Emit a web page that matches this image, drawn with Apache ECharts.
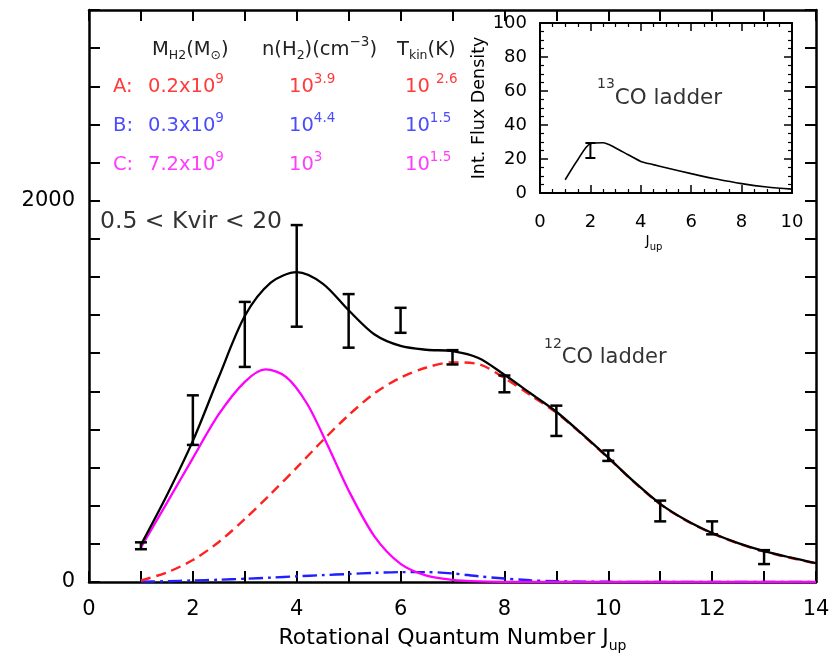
<!DOCTYPE html>
<html>
<head>
<meta charset="utf-8">
<script src="https://cdn.jsdelivr.net/npm/echarts@6/dist/echarts.min.js"></script>
<style>
  html, body { margin: 0; padding: 0; background: #fff; }
  #main { width: 839px; height: 658px; }
</style>
</head>
<body>
<div id="main"></div>
<script>
// 12CO ladder, observed error bars
var jObs = [1, 2, 3, 4, 5, 6, 7, 8, 9, 10, 11, 12, 13];
var obsLow = [172, 719, 1128, 1339, 1229, 1307, 1141, 995, 766, 635, 318, 250, 94];
var obsHigh = [208, 979, 1469, 1872, 1510, 1438, 1216, 1083, 925, 690, 427, 318, 167];

// model curves (total, A, B) sampled every 0.5 in J
var jModel = [1, 1.5, 2, 2.5, 3, 3.5, 4, 4.5, 5, 5.5, 6, 6.5, 7, 7.5, 8, 8.5, 9, 9.5, 10, 10.5, 11, 11.5, 12, 12.5, 13, 13.5, 14];
var fitTotal = [195, 455, 740, 1075, 1395, 1570, 1625, 1565, 1425, 1298, 1238, 1218, 1211, 1175, 1087, 990, 893, 775, 652, 525, 410, 324, 257, 204, 162, 129, 99];
var fitA = [8, 50, 115, 210, 330, 462, 600, 742, 875, 990, 1072, 1125, 1152, 1143, 1070, 980, 888, 773, 650, 523, 408, 322, 255, 202, 160, 127, 97];
var fitB = [2, 4, 8, 12, 17, 23, 30, 36, 42, 48, 52, 52, 45, 30, 18, 9, 4, 2, 1, 0, 0, 0, 0, 0, 0, 0, 0];
// component C read on its own J grid (peak near J = 3.4)
var jModelC = [1, 1.5, 2, 2.5, 3, 3.4, 3.8, 4.2, 4.6, 5, 5.5, 6, 6.5, 7, 7.5, 8, 9, 10, 11, 12, 13, 14];
var fitC = [182, 415, 650, 880, 1050, 1115, 1075, 935, 715, 480, 238, 95, 33, 11, 3, 1, 0, 0, 0, 0, 0, 0];

// inset: 13CO ladder
var jInset = [1, 1.5, 2, 2.5, 3, 3.5, 4, 4.5, 5, 6, 7, 8, 9, 10];
var fitInset = [7.8, 19.6, 29, 29.6, 26.5, 22.5, 18.6, 16.7, 14.9, 11.4, 8.2, 5.5, 3.5, 2.3];
var jObsInset = [2];
var obsInsetLow = [20.6];
var obsInsetHigh = [29.4];

var FONT = 'DejaVu Sans';

function pairs(xs, ys) {
    return xs.map(function (x, i) { return [x, ys[i]]; });
}
function bars(xs, lo, hi) {
    return xs.map(function (x, i) { return [x, lo[i], hi[i]]; });
}
function errBar(halfW, lw) {
    return function (params, api) {
        var a = api.coord([api.value(0), api.value(1)]);
        var b = api.coord([api.value(0), api.value(2)]);
        var st = { stroke: '#000', lineWidth: lw };
        return {
            type: 'group',
            children: [
                { type: 'line', shape: { x1: a[0], y1: a[1], x2: b[0], y2: b[1] }, style: st },
                { type: 'line', shape: { x1: a[0] - halfW, y1: a[1], x2: a[0] + halfW, y2: a[1] }, style: st },
                { type: 'line', shape: { x1: b[0] - halfW, y1: b[1], x2: b[0] + halfW, y2: b[1] }, style: st }
            ]
        };
    };
}

// rich text pieces: everything top aligned, position set with padding
function richSet(size, supSize, subSize, color) {
    return {
        n: { fontFamily: FONT, fontSize: size, lineHeight: size, verticalAlign: 'top', padding: [6, 0, 0, 0], fill: color },
        p: { fontFamily: FONT, fontSize: supSize, lineHeight: supSize, verticalAlign: 'top', padding: [1, 0, 0, 0], fill: color },
        b: { fontFamily: FONT, fontSize: subSize, lineHeight: subSize, verticalAlign: 'top', padding: [15, 0, 0, 0], fill: color }
    };
}
function txt(x, y, text, color, size) {
    size = size || 19.5;
    return {
        type: 'text', x: x, y: y, z: 100,
        style: { text: text, fill: color, fontFamily: FONT, fontSize: size, verticalAlign: 'top', align: 'left', rich: richSet(size, 13.5, 12.5, color) }
    };
}

var red = '#ff3b3b', blue = '#4b4bff', mag = '#ff3dff', ink = '#222';

var myChart = echarts.init(document.getElementById('main'));

function tickIn(len, w) {
    return { show: true, inside: true, length: len, lineStyle: { color: '#000', width: w } };
}
function line(w) {
    return { show: true, onZero: false, lineStyle: { color: '#000', width: w } };
}
var minorIn = { show: true, splitNumber: 4, length: 4, lineStyle: { color: '#000', width: 1.2 } };

var option = {
    animation: false,
    textStyle: { fontFamily: FONT },
    grid: [
        { left: 89, right: 23, top: 10, bottom: 73 },
        { left: 540, right: 47, top: 23, bottom: 465 }
    ],
    xAxis: [
        {
            gridIndex: 0, type: 'value', min: 0, max: 14, interval: 1,
            axisLine: line(2.5),
            axisTick: tickIn(11, 2),
            splitLine: { show: false },
            axisLabel: {
                fontSize: 21, color: '#000', margin: 17,
                formatter: function (v) { return v % 2 === 0 ? String(v) : ''; }
            },
            name: '{n|Rotational Quantum Number J}{s|up}',
            nameLocation: 'middle', nameGap: 45,
            nameTextStyle: {
                rich: {
                    n: { fontFamily: FONT, fontSize: 22, lineHeight: 22, verticalAlign: 'top', color: '#000' },
                    s: { fontFamily: FONT, fontSize: 14, lineHeight: 14, verticalAlign: 'top', padding: [12, 0, 0, 0], color: '#000' }
                }
            }
        },
        {
            gridIndex: 0, type: 'value', position: 'top', min: 0, max: 14, interval: 1,
            axisLine: line(2.5),
            axisTick: tickIn(11, 2), axisLabel: { show: false }, splitLine: { show: false }
        },
        {
            gridIndex: 1, type: 'value', min: 0, max: 10, interval: 2,
            axisLine: line(2),
            axisTick: tickIn(8, 1.5),
            minorTick: minorIn,
            splitLine: { show: false },
            axisLabel: { fontSize: 18, color: '#000', margin: 20 },
            name: '{n|J}{s|up}',
            nameLocation: 'middle', nameGap: 41,
            nameTextStyle: {
                padding: [0, 24, 0, 0],
                rich: {
                    n: { fontFamily: FONT, fontSize: 14, lineHeight: 14, verticalAlign: 'top', color: '#000' },
                    s: { fontFamily: FONT, fontSize: 10, lineHeight: 10, verticalAlign: 'top', padding: [8, 0, 0, 0], color: '#000' }
                }
            }
        },
        {
            gridIndex: 1, type: 'value', position: 'top', min: 0, max: 10, interval: 2,
            axisLine: line(2),
            axisTick: tickIn(8, 1.5),
            minorTick: minorIn,
            axisLabel: { show: false }, splitLine: { show: false }
        }
    ],
    yAxis: [
        {
            gridIndex: 0, type: 'value', min: 0, max: 3000, interval: 200,
            axisLine: line(2.5),
            axisTick: tickIn(11, 2),
            splitLine: { show: false },
            axisLabel: {
                fontSize: 21, color: '#000', margin: 14,
                formatter: function (v) { return (v === 0 || v === 2000) ? String(v) : ''; }
            }
        },
        {
            gridIndex: 0, type: 'value', position: 'right', min: 0, max: 3000, interval: 200,
            axisLine: line(2.5),
            axisTick: tickIn(11, 2), axisLabel: { show: false }, splitLine: { show: false }
        },
        {
            gridIndex: 1, type: 'value', min: 0, max: 100, interval: 20,
            axisLine: line(2),
            axisTick: tickIn(8, 1.5),
            minorTick: minorIn,
            splitLine: { show: false },
            axisLabel: { fontSize: 18, color: '#000', margin: 13 },
            name: 'Int. Flux Density',
            nameLocation: 'middle', nameRotate: 90, nameGap: 47,
            nameTextStyle: { fontSize: 17.5, color: '#000' }
        },
        {
            gridIndex: 1, type: 'value', position: 'right', min: 0, max: 100, interval: 20,
            axisLine: line(2),
            axisTick: tickIn(8, 1.5),
            minorTick: minorIn,
            axisLabel: { show: false }, splitLine: { show: false }
        }
    ],
    series: [
        {
            type: 'line', xAxisIndex: 0, yAxisIndex: 0, data: pairs(jModel, fitB),
            smooth: 0.3, showSymbol: false, z: 3,
            lineStyle: { color: '#1f1fff', width: 2.4, type: [14, 5, 3, 5] }
        },
        {
            type: 'line', xAxisIndex: 0, yAxisIndex: 0, data: pairs(jModel, fitA),
            smooth: 0.3, showSymbol: false, z: 3,
            lineStyle: { color: '#ff2020', width: 2.4, type: [10, 6] }
        },
        {
            type: 'line', xAxisIndex: 0, yAxisIndex: 0, data: pairs(jModelC, fitC),
            smooth: 0.3, showSymbol: false, z: 3,
            lineStyle: { color: '#ff00ff', width: 2.3 }
        },
        {
            type: 'line', xAxisIndex: 0, yAxisIndex: 0, data: pairs(jModel, fitTotal),
            smooth: 0.3, showSymbol: false, z: 4,
            lineStyle: { color: '#000', width: 2.3 }
        },
        {
            type: 'custom', xAxisIndex: 0, yAxisIndex: 0, data: bars(jObs, obsLow, obsHigh),
            renderItem: errBar(6, 2.5), z: 5
        },
        {
            type: 'line', xAxisIndex: 2, yAxisIndex: 2, data: pairs(jInset, fitInset),
            smooth: 0.3, showSymbol: false, z: 6,
            lineStyle: { color: '#000', width: 1.6 }
        },
        {
            type: 'custom', xAxisIndex: 2, yAxisIndex: 2, data: bars(jObsInset, obsInsetLow, obsInsetHigh),
            renderItem: errBar(5, 2), z: 6
        }
    ],
    graphic: [
        txt(152, 34, '{n|M}{b|H2}{n|(M}{b|⊙}{n|)}', ink),
        txt(262, 34, '{n|n(H}{b|2}{n|)(cm}{p|−3}{n|)}', ink),
        txt(397, 34, '{n|T}{b|kin}{n|(K)}', ink),

        txt(113, 71, '{n|A:}', red),
        txt(148, 71, '{n|0.2x10}{p|9}', red),
        txt(289, 71, '{n|10}{p|3.9}', red),
        txt(405, 71, '{n|10 }{p|2.6}', red),

        txt(113, 110, '{n|B:}', blue),
        txt(148, 110, '{n|0.3x10}{p|9}', blue),
        txt(289, 110, '{n|10}{p|4.4}', blue),
        txt(405, 110, '{n|10}{p|1.5}', blue),

        txt(113, 149, '{n|C:}', mag),
        txt(148, 149, '{n|7.2x10}{p|9}', mag),
        txt(289, 149, '{n|10}{p|3}', mag),
        txt(405, 149, '{n|10}{p|1.5}', mag),

        {
            type: 'text', x: 100, y: 222, z: 100,
            style: { text: '0.5 < Kvir < 20', fill: '#333', fontFamily: FONT, fontSize: 23.5, verticalAlign: 'middle', align: 'left' }
        },
        {
            type: 'text', x: 544, y: 337, z: 100,
            style: {
                text: '{p|12}{n|CO ladder}', fill: '#333', fontFamily: FONT, verticalAlign: 'top', align: 'left',
                rich: {
                    n: { fontFamily: FONT, fontSize: 21, lineHeight: 21, verticalAlign: 'top', padding: [10, 0, 0, 0], fill: '#333' },
                    p: { fontFamily: FONT, fontSize: 14, lineHeight: 14, verticalAlign: 'top', padding: [0, 0, 0, 0], fill: '#333' }
                }
            }
        },
        {
            type: 'text', x: 597, y: 77, z: 100,
            style: {
                text: '{p|13}{n|CO ladder}', fill: '#333', fontFamily: FONT, verticalAlign: 'top', align: 'left',
                rich: {
                    n: { fontFamily: FONT, fontSize: 21.5, lineHeight: 21.5, verticalAlign: 'top', padding: [10, 0, 0, 0], fill: '#333' },
                    p: { fontFamily: FONT, fontSize: 14, lineHeight: 14, verticalAlign: 'top', padding: [0, 0, 0, 0], fill: '#333' }
                }
            }
        }
    ]
};

myChart.setOption(option);
</script>
</body>
</html>
